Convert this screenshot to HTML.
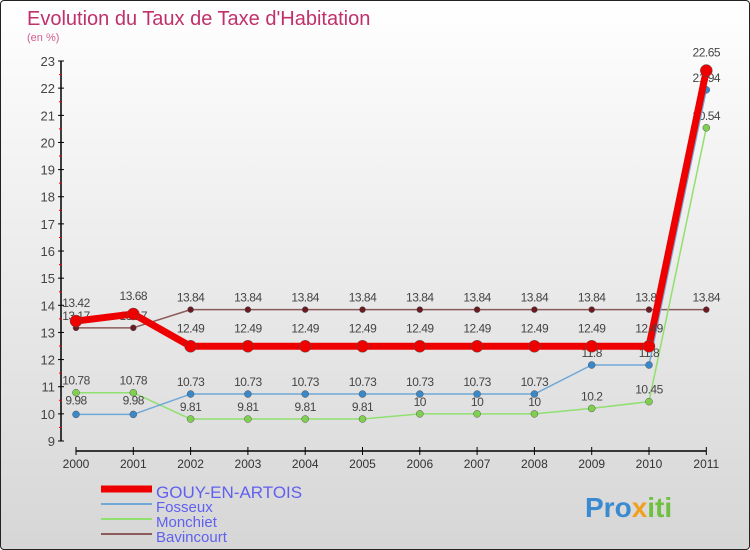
<!DOCTYPE html>
<html><head><meta charset="utf-8"><style>
body{margin:0}
#c{width:748px;height:548px;border:1px solid #222;border-radius:4px;background:linear-gradient(#fff,#d6d6d6);position:relative;overflow:hidden;font-family:"Liberation Sans",sans-serif}
svg text{font-family:"Liberation Sans",sans-serif}
</style></head><body>
<div id="c">
<svg id="s" width="750" height="550">
<text x="26" y="24" font-size="20" fill="#c0306a">Evolution du Taux de Taxe d'Habitation</text>
<text x="26" y="40" font-size="11" fill="#d06090">(en %)</text>
<text x="584" y="516" font-size="28" font-weight="bold" fill="#3a8ad0">Pro<tspan fill="#f0a020">x</tspan><tspan fill="#70c040">iti</tspan></text>
</svg>
</div>
<script>
const years=['2000','2001','2002','2003','2004','2005','2006','2007','2008','2009','2010','2011'];
const gouy=[13.42,13.68,12.49,12.49,12.49,12.49,12.49,12.49,12.49,12.49,12.49,22.65];
const fosseux=[9.98,9.98,10.73,10.73,10.73,10.73,10.73,10.73,10.73,11.8,11.8,21.94];
const monchiet=[10.78,10.78,9.81,9.81,9.81,9.81,10,10,10,10.2,10.45,20.54];
const bavincourt=[13.17,13.17,13.84,13.84,13.84,13.84,13.84,13.84,13.84,13.84,13.84,13.84];
const yTicks=[9,10,11,12,13,14,15,16,17,18,19,20,21,22,23];
const svg=document.getElementById('s');const NS='http://www.w3.org/2000/svg';
function X(i){return 75+i*57.3;}
function Y(v){return 440-(v-9)*27.14;}
function mk(t,a,p){const e=document.createElementNS(NS,t);for(const k in a)e.setAttribute(k,a[k]);(p||svg).appendChild(e);return e;}
let ax=mk('line',{x1:60,y1:Y(23),x2:60,y2:Y(9),stroke:'#000','stroke-width':1.5});


yTicks.forEach(v=>{
 mk('line',{x1:57,y1:Y(v),x2:63,y2:Y(v),stroke:'#000'});
 if(v<23)mk('line',{x1:58,y1:Y(v+0.5),x2:61,y2:Y(v+0.5),stroke:'#e00'});
 const t=mk('text',{x:54,y:Y(v)+5,'font-size':13,'text-anchor':'end',fill:'#444'});t.textContent=v;
 
 
});
let xa=mk('line',{x1:X(0),y1:450,x2:X(11),y2:450,stroke:'#000','stroke-width':1.5});


years.forEach((y,i)=>{
 mk('line',{x1:X(i),y1:446,x2:X(i),y2:454,stroke:'#000'});
 const t=mk('text',{x:X(i),y:467,'font-size':12,'text-anchor':'middle',fill:'#333'});t.textContent=y;
 
 
});
function series(d,color,w,r,fill,name,dy){
 const g=mk('g',{});
 
 
 mk('polyline',{points:d.map((v,i)=>X(i)+','+Y(v)).join(' '),fill:'none',stroke:color,'stroke-width':w,'stroke-linejoin':'round'},g);
 d.forEach((v,i)=>{
  const c=mk('circle',{cx:X(i),cy:Y(v),r:r,fill:fill,stroke:'#555','stroke-width':0.5},g);
  
  
  const t=mk('text',{x:X(i),y:Y(v)+dy(i),'font-size':12,'text-anchor':'middle',fill:'#444','letter-spacing':'-0.5'},g);t.textContent=v;
  
  
 });
}
series(bavincourt,'#8b5a5a',1.5,3,'#6a1a20','series-bavincourt',i=>-8);
series(monchiet,'#90e070',1.5,3.5,'#80d050','series-monchiet',i=>-8);
series(fosseux,'#70a8d8',1.5,3.5,'#3a88c8','series-fosseux',i=>i<2?-10:-8);
series(gouy,'#ee0000',7,6,'#ee0000','series-gouy',i=>-14);
const leg=[['GOUY-EN-ARTOIS','#ee0000',7,17],['Fosseux','#70a8d8',2,15],['Monchiet','#90e070',2,15],['Bavincourt','#8b5a5a',2,15]];
const ly=[493,508,523,538];
leg.forEach((l,i)=>{
 const g=mk('g',{});
 
 
 mk('line',{x1:100,y1:ly[i]-5,x2:151,y2:ly[i]-5,stroke:l[1],'stroke-width':l[2]},g);
 const t=mk('text',{x:155,y:ly[i]+(i==0?4:3),'font-size':l[3],fill:'#6060f0'},g);t.textContent=l[0];
});
</script>
</body></html>
